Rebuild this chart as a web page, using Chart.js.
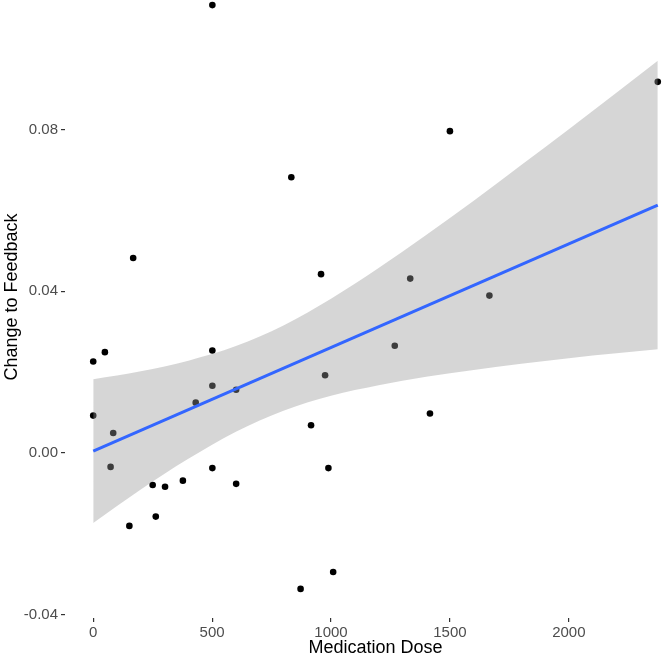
<!DOCTYPE html>
<html>
<head>
<meta charset="utf-8">
<script src="https://cdn.jsdelivr.net/npm/chart.js@4/dist/chart.umd.min.js"></script>
<style>
  html, body { margin: 0; padding: 0; background: #ffffff; overflow: hidden; width: 662px; height: 660px; }
  #wrap { position: relative; width: 662px; height: 660px; overflow: hidden; }
  #c { display: block; position: absolute; left: 0; top: -24px; }
</style>
</head>
<body>
<div id="wrap"><canvas id="c" width="686" height="684"></canvas></div>
<script>
// ---- data ----
const xTicks = [0, 500, 1000, 1500, 2000];
const yTicks = [-0.04, 0, 0.04, 0.08];
const yTickLabels = ["-0.04", "0.00", "0.04", "0.08"];

const doseValues = [501, 168, 0, 49, 0, 84, 73, 250, 302, 377, 152, 263, 431, 501, 501, 601, 501, 601,
                    833, 958, 975, 916, 989, 1009, 872, 1333, 1666, 1500, 2374, 1268, 1416];
const changeValues = [0.1108, 0.0482, 0.0226, 0.0249, 0.0092, 0.0049, -0.0035, -0.0080, -0.0084, -0.0069,
                      -0.0181, -0.0158, 0.0124, 0.0253, 0.0166, 0.0156, -0.0038, -0.0077,
                      0.0682, 0.0442, 0.0192, 0.0068, -0.0038, -0.0295, -0.0337, 0.0431, 0.0389, 0.0796,
                      0.0918, 0.0265, 0.0097];

const fitDose = [0, 2374];
const fitChange = [0.0004, 0.0613];

const bandDose  = [0, 200, 400, 600, 800, 1000, 1200, 1400, 1600, 1800, 2000, 2200, 2374];
const bandUpper = [0.0182, 0.0202, 0.0228, 0.0264, 0.0315, 0.0381, 0.0457, 0.0539, 0.0624, 0.0712, 0.0801, 0.0891, 0.0970];
const bandLower = [-0.0174, -0.0091, -0.0015, 0.0052, 0.0104, 0.0141, 0.0167, 0.0188, 0.0205, 0.0220, 0.0234, 0.0246, 0.0256];

// ---- build ----
const pts = doseValues.map((x, i) => ({ x: x, y: changeValues[i] }));
const fitPts = fitDose.map((x, i) => ({ x: x, y: fitChange[i] }));
const upPts = bandDose.map((x, i) => ({ x: x, y: bandUpper[i] }));
const loPts = bandDose.map((x, i) => ({ x: x, y: bandLower[i] }));

const FONT = "'Liberation Sans', Arial, sans-serif";

new Chart(document.getElementById('c'), {
  type: 'scatter',
  data: {
    datasets: [
      { type: 'scatter', data: pts, pointRadius: 3.3, pointHoverRadius: 3.3,
        backgroundColor: '#000000', borderWidth: 0, order: 3 },
      { type: 'line', data: upPts, borderColor: 'transparent', borderWidth: 0, pointRadius: 0,
        fill: '+1', backgroundColor: 'rgba(153,153,153,0.4)', cubicInterpolationMode: 'monotone', order: 2 },
      { type: 'line', data: loPts, borderColor: 'transparent', borderWidth: 0, pointRadius: 0,
        fill: false, cubicInterpolationMode: 'monotone', order: 2 },
      { type: 'line', data: fitPts, borderColor: '#3366FF', borderWidth: 3, pointRadius: 0,
        fill: false, order: 1 }
    ]
  },
  options: {
    responsive: false,
    devicePixelRatio: 1,
    animation: false,
    events: [],
    layout: { padding: 0, autoPadding: false },
    plugins: { legend: { display: false }, tooltip: { enabled: false } },
    scales: {
      x: {
        type: 'linear',
        min: -118.7,
        max: 2492.7,
        afterBuildTicks: s => { s.ticks = xTicks.map(v => ({ value: v })); },
        afterFit: s => { s.height = 42; s.paddingLeft = 0; s.paddingRight = 0; },
        border: { display: false },
        grid: { display: true, drawOnChartArea: false, drawTicks: true, tickLength: 4,
                tickColor: '#333333', lineWidth: 1.2 },
        ticks: { color: '#4d4d4d', font: { family: FONT, size: 15 }, padding: 2,
                 maxRotation: 0, autoSkip: false, callback: v => String(v) },
        title: { display: true, text: 'Medication Dose', color: '#000000',
                 font: { family: FONT, size: 18 }, padding: { top: 0, bottom: 1 } }
      },
      y: {
        type: 'linear',
        min: -0.0409,
        max: 0.1180,
        afterBuildTicks: s => { s.ticks = yTicks.map(v => ({ value: v })); },
        afterFit: s => { s.width = 65; s.paddingTop = 0; s.paddingBottom = 0; },
        border: { display: false },
        grid: { display: true, drawOnChartArea: false, drawTicks: true, tickLength: 4,
                tickColor: '#333333', lineWidth: 1.2 },
        ticks: { color: '#4d4d4d', font: { family: FONT, size: 15 }, padding: 3,
                 autoSkip: false,
                 callback: v => { const i = yTicks.indexOf(v); return i >= 0 ? yTickLabels[i] : ''; } },
        title: { display: true, text: 'Change to Feedback', color: '#000000',
                 font: { family: FONT, size: 18 }, padding: { top: 1, bottom: 0 } }
      }
    }
  }
});
</script>
</body>
</html>
